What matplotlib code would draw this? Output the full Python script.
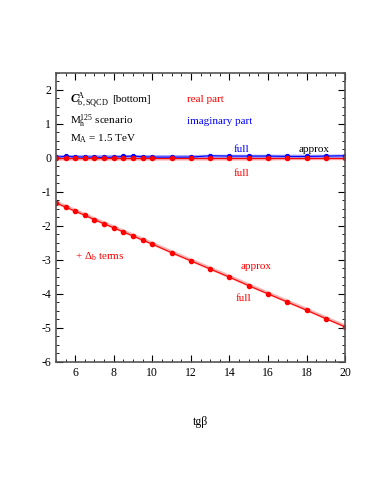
import matplotlib
matplotlib.use('Agg')
import matplotlib.pyplot as plt
from matplotlib.ticker import MultipleLocator

plt.rcParams['font.family'] = ['Liberation Serif', 'DejaVu Serif']
plt.rcParams['mathtext.fontset'] = 'custom'
plt.rcParams['mathtext.rm'] = 'Liberation Serif'
plt.rcParams['mathtext.it'] = 'Liberation Serif:italic'
plt.rcParams['mathtext.bf'] = 'Liberation Serif:bold:italic'
plt.rcParams['axes.unicode_minus'] = False

tgb = [5, 5.5, 6, 6.5, 7, 7.5, 8, 8.5, 9, 9.5, 10, 11, 12, 13, 14, 15, 16, 17, 18, 19, 20]

# real part, no Delta_b terms
re_full = [-0.02, -0.02, -0.02, -0.02, -0.02, -0.02, -0.02, -0.02, -0.02, -0.02, -0.02,
           -0.02, -0.02, -0.02, -0.02, -0.02, -0.02, -0.02, -0.02, -0.02, -0.02]
re_approx = [-0.03, -0.03, -0.03, -0.03, -0.03, -0.03, -0.03, -0.03, -0.03, -0.03, -0.03,
             -0.03, -0.03, -0.03, -0.03, -0.03, -0.03, -0.02, -0.02, -0.02, -0.02]
# imaginary part
im_full = [0.02, 0.04, 0.03, 0.02, 0.02, 0.01, 0.02, 0.04, 0.05, 0.03, 0.02,
           0.02, 0.02, 0.06, 0.05, 0.05, 0.05, 0.04, 0.04, 0.05, 0.06]
im_approx = [0.03, 0.03, 0.03, 0.03, 0.03, 0.03, 0.03, 0.03, 0.03, 0.03, 0.03,
             0.03, 0.03, 0.04, 0.04, 0.04, 0.04, 0.04, 0.04, 0.04, 0.05]
# real part with Delta_b terms
db_full = [-1.33, -1.45, -1.57, -1.69, -1.82, -1.94, -2.06, -2.18, -2.30, -2.42, -2.54,
           -2.79, -3.03, -3.27, -3.51, -3.76, -4.00, -4.24, -4.48, -4.73, -4.97]
db_approx = [-1.31, -1.43, -1.55, -1.67, -1.80, -1.92, -2.04, -2.16, -2.28, -2.40, -2.52,
             -2.77, -3.01, -3.25, -3.49, -3.74, -3.98, -4.22, -4.46, -4.71, -4.95]

fig = plt.figure(figsize=(3.83, 4.95), dpi=100)
ax = fig.add_axes([0.146, 0.269, 0.755, 0.584])

ax.plot(tgb, re_approx, color='#ff8080', lw=2.5, alpha=0.7)
ax.plot(tgb, im_approx, color='#8080ff', lw=2.5, alpha=0.7)
ax.plot(tgb, db_approx, color='#ff9090', lw=2.5, alpha=0.7)
ax.plot(tgb, im_full, color='blue', lw=0.8, marker='o', ms=2.8)
ax.plot(tgb, re_full, color='red', lw=0.8, marker='o', ms=3)
ax.plot(tgb, db_full, color='red', lw=0.8, marker='o', ms=3)

ax.set_xlim(5, 20)
ax.set_ylim(-6, 2.5)
ax.xaxis.set_major_locator(MultipleLocator(2))
ax.xaxis.set_minor_locator(MultipleLocator(0.5))
ax.yaxis.set_major_locator(MultipleLocator(1))
ax.yaxis.set_minor_locator(MultipleLocator(0.25))
ax.tick_params(which='both', direction='in', top=True, right=True, labelsize=8.5)
ax.tick_params(which='major', length=5)
ax.tick_params(which='minor', length=2.5)
for s in ax.spines.values():
    s.set_linewidth(1.2)
    s.set_color('#555555')

ax.set_xlabel('tgβ', fontsize=8.5, labelpad=27)

fs = 8
ax.text(5.75, 1.7, r'$\mathbf{C}^{\mathrm{A}}_{\mathrm{b,SQCD}}$', fontsize=8.5, va='center')
ax.text(7.9, 1.7, '[bottom]', fontsize=fs, va='center')
ax.text(11.8, 1.7, 'real part', fontsize=fs, color='red', va='center')
ax.text(5.75, 1.08, r'M$_\mathrm{h}^{125}$ scenario', fontsize=fs, va='center')
ax.text(11.8, 1.08, 'imaginary part', fontsize=fs, color='blue', va='center')
ax.text(5.75, 0.55, r'M$_\mathrm{A}$ = 1.5 TeV', fontsize=fs, va='center')
ax.text(14.2, 0.25, 'full', fontsize=fs, color='blue', va='center')
ax.text(17.6, 0.25, 'approx', fontsize=fs, color='black', va='center')
ax.text(14.2, -0.45, 'full', fontsize=fs, color='red', va='center')
ax.text(6.0, -2.9, r'+ $\Delta_\mathrm{b}$ terms', fontsize=fs, color='red', va='center')
ax.text(14.6, -3.2, 'approx', fontsize=fs, color='red', va='center')
ax.text(14.3, -4.15, 'full', fontsize=fs, color='red', va='center')

fig.savefig('out.png', dpi=100)
